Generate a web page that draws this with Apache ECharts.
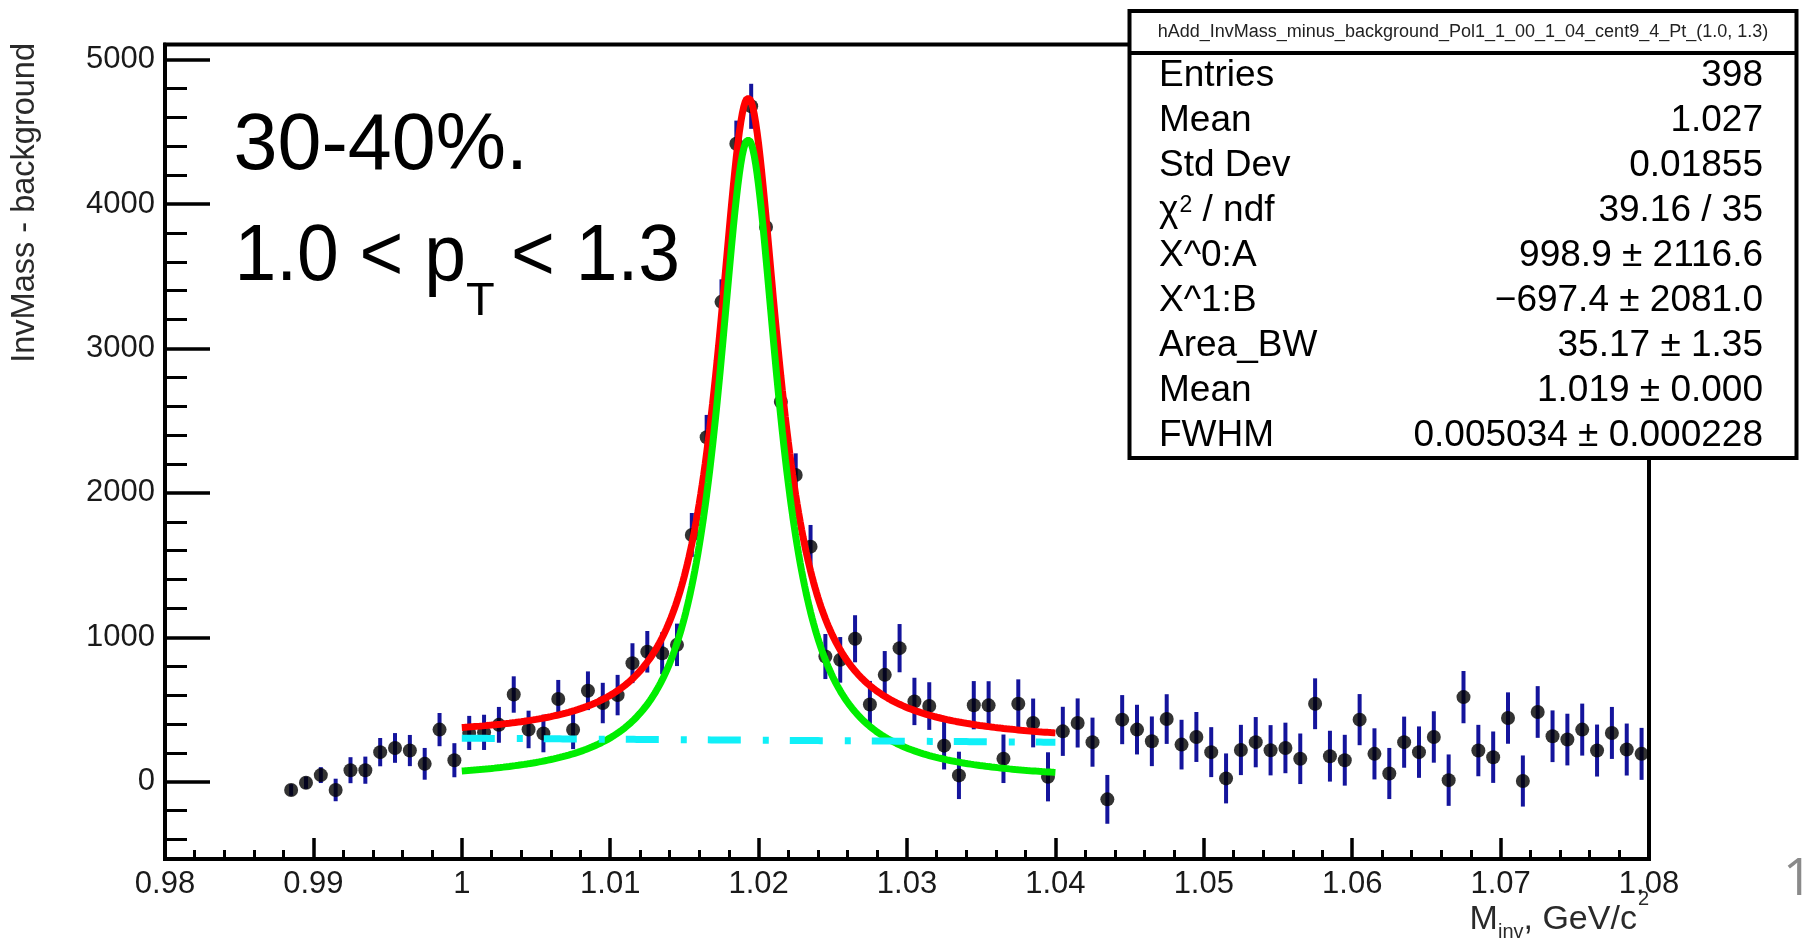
<!DOCTYPE html>
<html>
<head>
<meta charset="utf-8">
<title>InvMass - background</title>
<script src="https://cdn.jsdelivr.net/npm/echarts@6/dist/echarts.min.js"></script>
<style>
  html, body { margin: 0; padding: 0; background: #ffffff; }
  #chart { width: 1807px; height: 951px; }
</style>
</head>
<body>
<div id="chart"></div>
<script>
// ---- histogram: bin centres (GeV/c^2), contents and errors ----
const binCenters = [
  0.9885, 0.9895, 0.9905, 0.9915, 0.9925, 0.9935, 0.9945, 0.9955, 0.9965, 0.9975, 0.9985, 0.9995,
  1.0005, 1.0015, 1.0025, 1.0035, 1.0045, 1.0055, 1.0065, 1.0075, 1.0085, 1.0095,
  1.0105, 1.0115, 1.0125, 1.0135, 1.0145, 1.0155, 1.0165, 1.0175, 1.0185, 1.0195,
  1.0205, 1.0215, 1.0225, 1.0235, 1.0245, 1.0255, 1.0265, 1.0275, 1.0285, 1.0295,
  1.0305, 1.0315, 1.0325, 1.0335, 1.0345, 1.0355, 1.0365, 1.0375, 1.0385, 1.0395,
  1.0405, 1.0415, 1.0425, 1.0435, 1.0445, 1.0455, 1.0465, 1.0475, 1.0485, 1.0495,
  1.0505, 1.0515, 1.0525, 1.0535, 1.0545, 1.0555, 1.0565, 1.0575, 1.0585, 1.0595,
  1.0605, 1.0615, 1.0625, 1.0635, 1.0645, 1.0655, 1.0665, 1.0675, 1.0685, 1.0695,
  1.0705, 1.0715, 1.0725, 1.0735, 1.0745, 1.0755, 1.0765, 1.0775, 1.0785, 1.0795
];
const counts = [
  -57, -7, 46, -57, 80, 80, 205, 234, 216, 124, 361, 149,
  338, 342, 394, 604, 362, 334, 573, 360, 630, 545,
  600, 821, 900, 890, 948, 1709, 2385, 3323, 4418, 4677,
  3842, 2631, 2124, 1628, 867, 844, 990, 535, 740, 925,
  556, 524, 250, 44, 530, 529, 159, 540, 407, 34,
  349, 407, 274, -122, 430, 361, 280, 434, 257, 310,
  205, 23, 220, 274, 218, 234, 159, 540, 177, 149,
  430, 193, 57, 274, 205, 310, 11, 586, 216, 170,
  441, 5, 483, 315, 292, 361, 216, 338, 223, 193
];
const errors = [
  40, 42, 55, 78, 90, 94, 98, 103, 108, 110, 115, 118,
  118, 122, 124, 126, 130, 130, 132, 134, 134, 140,
  140, 138, 144, 145, 147, 152, 155, 156, 160, 156,
  155, 152, 150, 150, 156, 158, 163, 163, 165, 167,
  164, 165, 165, 164, 167, 167, 168, 169, 169, 170,
  170, 170, 170, 169, 170, 172, 172, 172, 172, 173,
  173, 173, 174, 174, 174, 175, 175, 176, 176, 176,
  177, 177, 177, 177, 178, 178, 178, 181, 178, 178,
  178, 177, 179, 179, 179, 180, 180, 180, 180, 180
];

// ---- fit: pol1 background + Breit-Wigner peak ----
const fitRange = [1.0, 1.04];
const pol1Params = [998.9, -697.4];            // X^0:A, X^1:B
const bwParams = [35.17, 1.0193, 0.005034];     // Area_BW, Mean, FWHM

// ---- axes ----
const xTickValues = [0.98, 0.99, 1.00, 1.01, 1.02, 1.03, 1.04, 1.05, 1.06, 1.07, 1.08];
const xTickLabels = ['0.98', '0.99', '1', '1.01', '1.02', '1.03', '1.04', '1.05', '1.06', '1.07', '1.08'];
const yRange = [-535, 5105];
const yTickValues = [0, 1000, 2000, 3000, 4000, 5000];
const yTickLabels = ['0', '1000', '2000', '3000', '4000', '5000'];
const yMinorTickValues = [-400, -200, 200, 400, 600, 800, 1200, 1400, 1600, 1800,
  2200, 2400, 2600, 2800, 3200, 3400, 3600, 3800, 4200, 4400, 4600, 4800];

// ---- stats box ----
const statsTitle = 'hAdd_InvMass_minus_background_Pol1_1_00_1_04_cent9_4_Pt_(1.0, 1.3)';
const statsLabels = ['Entries', 'Mean', 'Std Dev', '{n|\u03c7}{p|2}{n| / ndf}', 'X^0:A', 'X^1:B', 'Area_BW', 'Mean', 'FWHM'];
const statsValues = ['398', '1.027', '0.01855', '39.16 / 35', '998.9 \u00b1 2116.6', '\u2212697.4 \u00b1 2081.0',
  '35.17 \u00b1 1.35', '1.019 \u00b1 0.000', '0.005034 \u00b1 0.000228'];

const FONT = '"Liberation Sans", Arial, Helvetica, sans-serif';

function pol1(x) { return pol1Params[0] + pol1Params[1] * x; }
function breitWigner(x) {
  const [area, mean, gamma] = bwParams;
  return area * (gamma / (2 * Math.PI)) / ((x - mean) * (x - mean) + gamma * gamma / 4);
}
function sampleCurve(fn) {
  const pts = [];
  const n = 400;
  for (let i = 0; i <= n; i++) {
    const x = fitRange[0] + (fitRange[1] - fitRange[0]) * i / n;
    pts.push([x, fn(x)]);
  }
  return pts;
}
function nearestLabel(values, labels, v) {
  let best = 0;
  values.forEach((t, i) => { if (Math.abs(t - v) < Math.abs(values[best] - v)) best = i; });
  return labels[best];
}

const histData = binCenters.map((x, i) => [x, counts[i], errors[i]]);
const pointData = binCenters.map((x, i) => [x, counts[i]]);

const GRID = { left: 165, top: 44.5, width: 1484, height: 814.5 };

const statsRows = [];
statsLabels.forEach((lab, i) => {
  const y = 75.7 + 45 * i;
  statsRows.push({
    type: 'text', x: 1159, y: y, z: 32,
    style: {
      text: lab, fontSize: 37, fontFamily: FONT, fill: '#000',
      align: 'left', verticalAlign: 'middle',
      rich: {
        n: { fontSize: 37, fontFamily: FONT, lineHeight: 44, fill: '#000' },
        p: { fontSize: 23, fontFamily: FONT, verticalAlign: 'top', padding: [5, 0, 0, 1], fill: '#000' }
      }
    }
  });
  statsRows.push({
    type: 'text', x: 1763, y: y, z: 32,
    style: { text: statsValues[i], fontSize: 37, fontFamily: FONT, fill: '#000', align: 'right', verticalAlign: 'middle' }
  });
});

const chart = echarts.init(document.getElementById('chart'), null, { renderer: 'canvas' });

const option = {
  backgroundColor: '#ffffff',
  animation: false,
  grid: [
    Object.assign({ show: true, borderColor: '#000', borderWidth: 4, backgroundColor: 'transparent' }, GRID),
    Object.assign({ show: false }, GRID)
  ],
  xAxis: [
    {
      type: 'value', gridIndex: 0, min: 0.98, max: 1.08, interval: 0.01,
      axisLine: { show: true, onZero: false, lineStyle: { color: '#000', width: 4 } },
      axisTick: { show: true, inside: true, length: 21, lineStyle: { color: '#000', width: 3.5 } },
      minorTick: { show: true, splitNumber: 5, length: 9, lineStyle: { color: '#000', width: 3 } },
      axisLabel: {
        margin: 10, fontSize: 31, fontFamily: FONT, color: '#1a1a1a',
        formatter: v => nearestLabel(xTickValues, xTickLabels, v)
      },
      splitLine: { show: false }, minorSplitLine: { show: false }
    },
    { type: 'value', gridIndex: 1, min: 0.98, max: 1.08, show: false }
  ],
  yAxis: [
    {
      type: 'value', gridIndex: 0, min: yRange[0], max: yRange[1],
      axisLine: { show: true, onZero: false, lineStyle: { color: '#000', width: 4 } },
      axisTick: { show: true, inside: true, length: 45, customValues: yTickValues, lineStyle: { color: '#000', width: 3.5 } },
      axisLabel: {
        margin: 10, fontSize: 31, fontFamily: FONT, color: '#1a1a1a', customValues: yTickValues,
        formatter: v => nearestLabel(yTickValues, yTickLabels, v)
      },
      splitLine: { show: false }
    },
    {
      type: 'value', gridIndex: 1, min: yRange[0], max: yRange[1],
      axisLine: { show: false, onZero: false },
      axisTick: { show: true, inside: true, length: 22, customValues: yMinorTickValues, lineStyle: { color: '#000', width: 3 } },
      axisLabel: { show: false },
      splitLine: { show: false }
    }
  ],
  series: [
    {
      name: 'errors', type: 'custom', xAxisIndex: 0, yAxisIndex: 0, z: 2,
      data: histData, encode: { x: 0, y: 1 },
      renderItem: function (params, api) {
        const x = api.value(0), y = api.value(1), e = api.value(2);
        const top = api.coord([x, y + e]);
        const bot = api.coord([x, y - e]);
        return {
          type: 'line',
          shape: { x1: top[0], y1: top[1], x2: bot[0], y2: bot[1] },
          style: { stroke: '#14149c', lineWidth: 4 }
        };
      }
    },
    {
      name: 'InvMass - background', type: 'scatter', xAxisIndex: 0, yAxisIndex: 0, z: 3,
      data: pointData, symbol: 'circle', symbolSize: 14,
      itemStyle: { color: '#000' }
    },
    {
      name: 'total fit', type: 'line', z: 4, showSymbol: false, smooth: false,
      data: sampleCurve(x => pol1(x) + breitWigner(x)),
      lineStyle: { color: '#ff0000', width: 7 }
    },
    {
      name: 'Breit-Wigner', type: 'line', z: 5, showSymbol: false, smooth: false,
      data: sampleCurve(breitWigner),
      lineStyle: { color: '#00ee00', width: 7 }
    },
    {
      name: 'pol1', type: 'line', z: 6, showSymbol: false, smooth: false,
      data: sampleCurve(pol1),
      lineStyle: { color: '#10f0f8', width: 7, type: [33, 22, 6, 21], cap: 'butt' }
    }
  ],
  graphic: [
    { type: 'text', x: 233.6, y: 147, z: 20,
      style: { text: '30-40%.', fontSize: 79, fontFamily: FONT, fill: '#000', align: 'left', verticalAlign: 'middle' } },
    { type: 'text', x: 234.4, y: 258.4, scaleX: 0.95, z: 20,
      style: { text: '1.0 < p', fontSize: 79, fontFamily: FONT, fill: '#000', align: 'left', verticalAlign: 'middle' } },
    { type: 'text', x: 466, y: 302, z: 20,
      style: { text: 'T', fontSize: 47, fontFamily: FONT, fill: '#000', align: 'left', verticalAlign: 'middle' } },
    { type: 'text', x: 511, y: 258.4, scaleX: 0.95, z: 20,
      style: { text: '< 1.3', fontSize: 79, fontFamily: FONT, fill: '#000', align: 'left', verticalAlign: 'middle' } },
    { type: 'text', x: 24.6, y: 43, rotation: Math.PI / 2, z: 20,
      style: { text: 'InvMass - background', fontSize: 32.5, fontFamily: FONT, fill: '#2a2a2a', align: 'right', verticalAlign: 'middle' } },
    { type: 'text', x: 1649, y: 920, z: 20,
      style: {
        text: '{m|M}{i|inv}{m|, GeV/c}{s|2}', fontFamily: FONT, fill: '#2a2a2a', align: 'right', verticalAlign: 'middle',
        rich: {
          m: { fontSize: 34, fontFamily: FONT, lineHeight: 70, fill: '#2a2a2a' },
          i: { fontSize: 20, fontFamily: FONT, verticalAlign: 'top', padding: [37, 0, 0, 0], fill: '#2a2a2a' },
          s: { fontSize: 20, fontFamily: FONT, verticalAlign: 'top', padding: [4, 0, 0, 1], fill: '#2a2a2a' }
        }
      } },
    { type: 'rect', z: 30, shape: { x: 1129.5, y: 11, width: 667, height: 447 },
      style: { fill: '#ffffff', stroke: '#000', lineWidth: 4 } },
    { type: 'line', z: 31, shape: { x1: 1129.5, y1: 53, x2: 1796.5, y2: 53 },
      style: { stroke: '#000', lineWidth: 4 } },
    { type: 'text', x: 1463, y: 32, z: 32,
      style: { text: statsTitle, fontSize: 18, fontFamily: FONT, fill: '#222', align: 'center', verticalAlign: 'middle' } },
    ...statsRows,
    { type: 'text', x: 1783, y: 880, z: 20,
      style: { text: '1', fontSize: 52, fontFamily: '"Open Sans", sans-serif', fill: '#8a8a8a', align: 'left', verticalAlign: 'middle' } }
  ]
};

chart.setOption(option);
</script>
</body>
</html>
